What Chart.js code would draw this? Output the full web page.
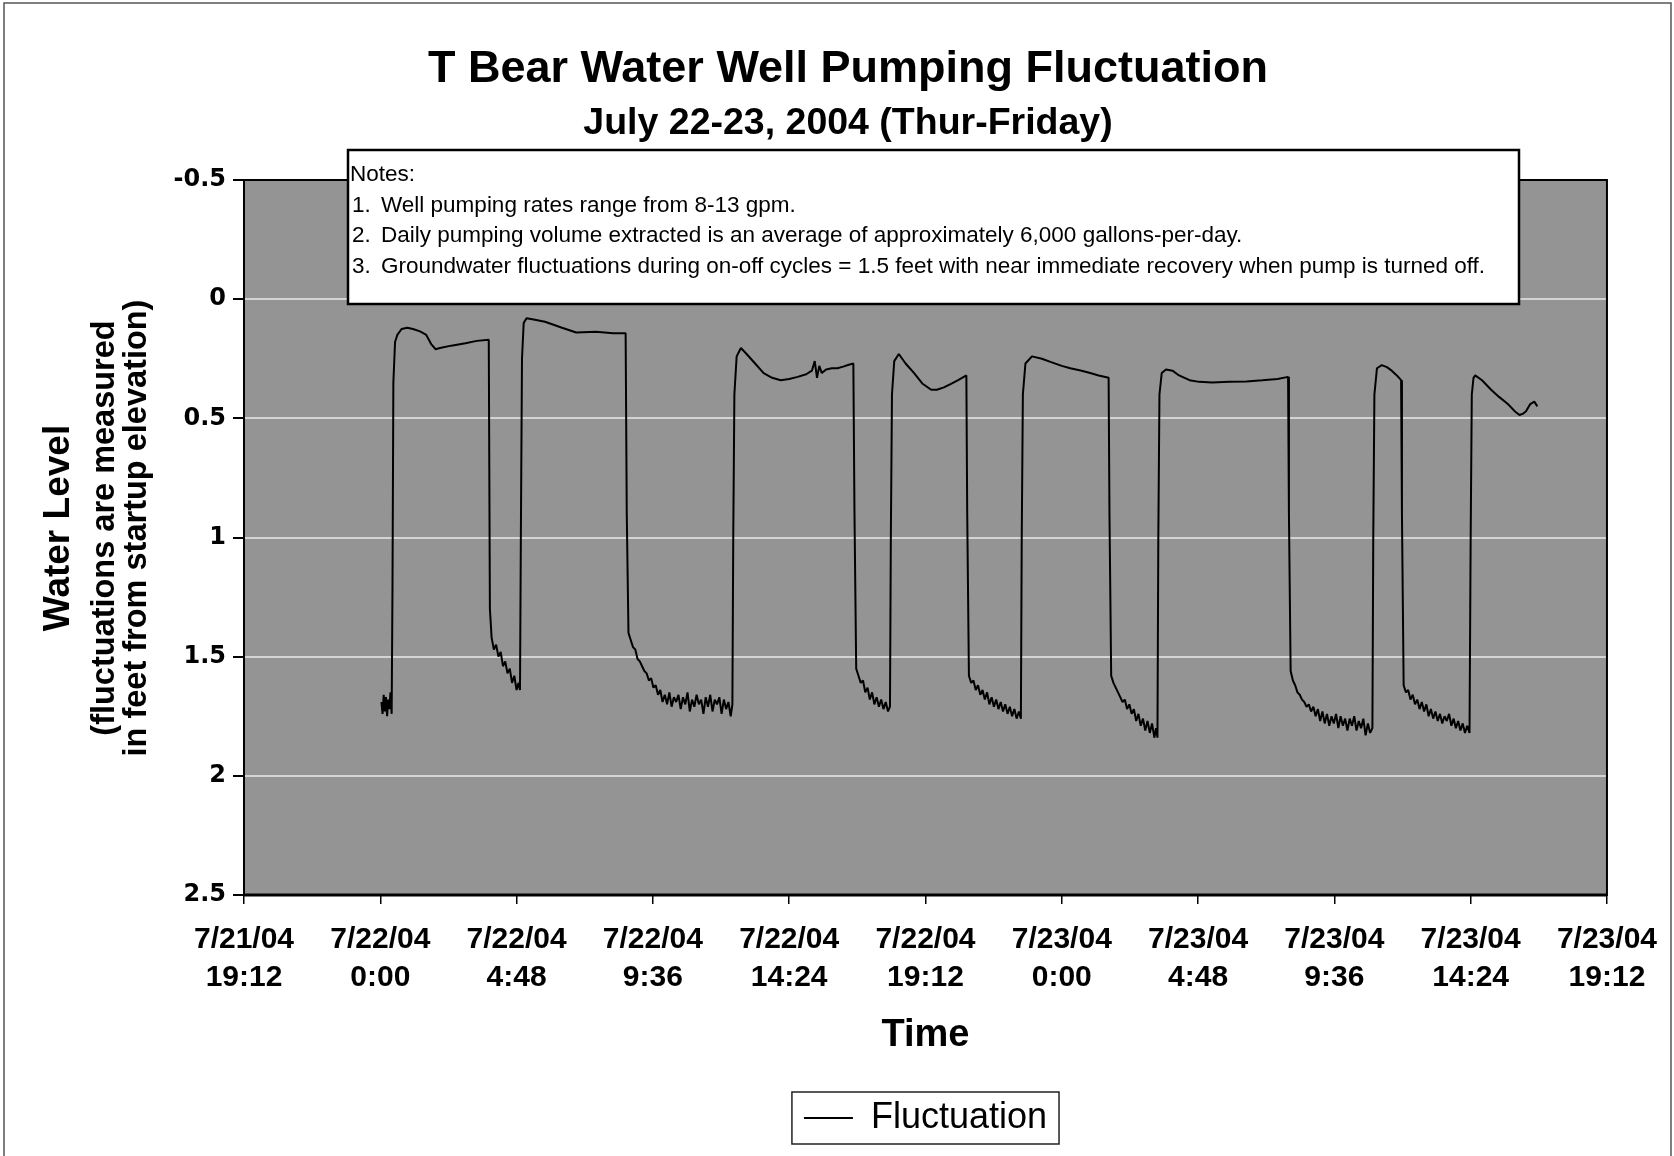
<!DOCTYPE html>
<html>
<head>
<meta charset="utf-8">
<title>T Bear Water Well Pumping Fluctuation</title>
<script src="https://cdn.jsdelivr.net/npm/chart.js@4.4.1/dist/chart.umd.min.js"></script>
<style>
  html, body { margin: 0; padding: 0; background: #fff; }
  canvas { display: block; }
</style>
</head>
<body>
<canvas id="well-chart" width="1674" height="1156"></canvas>
<script>
// hours after 7/22/04 0:00
const hours = [
  // pump on
  0.04, 0.08, 0.12, 0.16, 0.20, 0.24, 0.28, 0.32, 0.36, 0.40,
  // pump off
  0.43, 0.46, 0.52, 0.60, 0.75, 0.95, 1.15, 1.40, 1.62, 1.80, 1.95, 2.10, 2.50, 3.00, 3.40, 3.82,
  3.86, 3.92, 4.00, 4.08, 4.16, 4.24, 4.32, 4.40, 4.48, 4.56, 4.64, 4.72, 4.80, 4.87, 4.92,
  4.95, 4.99, 5.05, 5.15, 5.40, 5.80, 6.40, 6.90, 7.60, 8.20, 8.64,
  8.68, 8.74, 8.82, 8.90, 8.98, 9.06, 9.14, 9.22, 9.30, 9.38,
  9.46, 9.54, 9.62, 9.70, 9.78, 9.86, 9.94, 10.02, 10.10, 10.18,
  10.26, 10.34, 10.42, 10.50, 10.58, 10.66, 10.74, 10.82, 10.90, 10.98,
  11.06, 11.14, 11.22, 11.30, 11.38, 11.46, 11.54, 11.62, 11.70, 11.78,
  11.86, 11.94, 12.02, 12.10, 12.18, 12.26, 12.34, 12.40,
  12.43, 12.47, 12.55, 12.70, 12.90, 13.20, 13.50, 13.80, 14.10, 14.40,
  14.70, 15.00, 15.20, 15.30, 15.38, 15.46, 15.55, 15.70, 15.90, 16.10,
  16.30, 16.50, 16.66,
  16.70, 16.76, 16.84, 16.92, 17.00, 17.08, 17.16, 17.24, 17.32, 17.40,
  17.48, 17.56, 17.64, 17.72, 17.80, 17.88, 17.95,
  17.98, 18.02, 18.10, 18.26, 18.50, 18.80, 19.10, 19.40, 19.60, 19.85,
  20.10, 20.35, 20.64,
  20.67, 20.73, 20.81, 20.89, 20.97, 21.05, 21.13, 21.21, 21.29, 21.37,
  21.45, 21.53, 21.61, 21.69, 21.77, 21.85, 21.93, 22.01, 22.09, 22.17,
  22.25, 22.33, 22.41, 22.49, 22.56,
  22.59, 22.63, 22.72, 22.95, 23.30, 23.60, 24.00, 24.30, 24.70, 25.00,
  25.30, 25.65,
  25.68, 25.74, 25.82, 25.90, 25.98, 26.06, 26.14, 26.22, 26.30, 26.38,
  26.46, 26.54, 26.62, 26.70, 26.78, 26.86, 26.94, 27.02, 27.10, 27.18,
  27.26, 27.32, 27.37,
  27.40, 27.44, 27.52, 27.67, 27.90, 28.13, 28.50, 28.84, 29.30, 29.89,
  30.50, 31.06, 31.60, 31.97,
  32.00, 32.06, 32.14, 32.22, 32.30, 32.38, 32.46, 32.54, 32.62, 32.70,
  32.78, 32.86, 32.94, 33.02, 33.10, 33.18, 33.26, 33.34, 33.42, 33.50,
  33.58, 33.66, 33.74, 33.82, 33.90, 33.98, 34.06, 34.14, 34.22, 34.30,
  34.38, 34.46, 34.54, 34.62, 34.70, 34.78, 34.86, 34.94,
  34.97, 35.01, 35.10, 35.27, 35.45, 35.62, 35.80, 35.95,
  35.98, 36.04, 36.12, 36.20, 36.28, 36.36, 36.44, 36.52, 36.60, 36.68,
  36.76, 36.84, 36.92, 37.00, 37.08, 37.16, 37.24, 37.32, 37.40, 37.48,
  37.56, 37.64, 37.72, 37.80, 37.88, 37.96, 38.04, 38.12, 38.20, 38.28,
  38.36,
  38.40, 38.44, 38.50, 38.56, 38.80, 39.12, 39.40, 39.71, 39.95, 40.12,
  40.25, 40.35, 40.50, 40.64, 40.75
];

// water level, feet below startup elevation
const level = [
  1.69, 1.74, 1.66, 1.73, 1.67, 1.75, 1.68, 1.72, 1.65, 1.74,
  1.20, 0.35, 0.18, 0.15, 0.125, 0.12, 0.125, 0.135, 0.15, 0.19, 0.21, 0.205, 0.195, 0.185, 0.175, 0.17,
  1.30, 1.42, 1.47, 1.45, 1.50, 1.48, 1.54, 1.52, 1.57, 1.55, 1.61, 1.58, 1.64, 1.61, 1.64,
  1.00, 0.25, 0.10, 0.08, 0.085, 0.095, 0.12, 0.14, 0.137, 0.143, 0.143,
  0.90, 1.40, 1.43, 1.46, 1.47, 1.51, 1.52, 1.54, 1.56, 1.57,
  1.60, 1.59, 1.63, 1.62, 1.66, 1.64, 1.69, 1.66, 1.70, 1.65,
  1.71, 1.67, 1.69, 1.66, 1.72, 1.67, 1.70, 1.65, 1.73, 1.68,
  1.71, 1.66, 1.70, 1.68, 1.74, 1.67, 1.71, 1.66, 1.73, 1.68,
  1.70, 1.67, 1.74, 1.68, 1.72, 1.69, 1.75, 1.70,
  1.00, 0.40, 0.24, 0.205, 0.23, 0.27, 0.31, 0.33, 0.34, 0.335,
  0.326, 0.315, 0.30, 0.26, 0.33, 0.28, 0.31, 0.295, 0.29, 0.29,
  0.283, 0.275, 0.27,
  0.90, 1.55, 1.58, 1.61, 1.60, 1.65, 1.63, 1.68, 1.65, 1.70,
  1.67, 1.71, 1.68, 1.72, 1.69, 1.73, 1.71,
  1.00, 0.40, 0.26, 0.23, 0.27, 0.31, 0.355, 0.38, 0.38, 0.37,
  0.355, 0.34, 0.32,
  0.90, 1.58, 1.61, 1.60, 1.64, 1.62, 1.66, 1.64, 1.68, 1.65,
  1.70, 1.67, 1.71, 1.68, 1.72, 1.69, 1.73, 1.70, 1.74, 1.71,
  1.75, 1.72, 1.76, 1.73, 1.76,
  1.00, 0.40, 0.27, 0.24, 0.25, 0.263, 0.28, 0.29, 0.30, 0.31,
  0.32, 0.33,
  0.90, 1.58, 1.61, 1.63, 1.65, 1.67, 1.69, 1.68, 1.72, 1.70,
  1.74, 1.72, 1.77, 1.74, 1.79, 1.76, 1.81, 1.77, 1.82, 1.78,
  1.84, 1.80, 1.84,
  1.00, 0.40, 0.31, 0.295, 0.30, 0.32, 0.34, 0.347, 0.35, 0.347,
  0.345, 0.34, 0.335, 0.326,
  0.90, 1.56, 1.60, 1.62, 1.65, 1.66, 1.68, 1.69, 1.71, 1.70,
  1.73, 1.71, 1.75, 1.72, 1.77, 1.73, 1.78, 1.74, 1.79, 1.75,
  1.78, 1.74, 1.80, 1.75, 1.79, 1.76, 1.81, 1.76, 1.79, 1.75,
  1.81, 1.77, 1.80, 1.76, 1.83, 1.78, 1.82, 1.80,
  1.00, 0.40, 0.29, 0.277, 0.285, 0.30, 0.32, 0.34,
  0.90, 1.62, 1.65, 1.64, 1.68, 1.66, 1.70, 1.68, 1.72, 1.69,
  1.73, 1.70, 1.75, 1.72, 1.76, 1.73, 1.77, 1.74, 1.78, 1.75,
  1.77, 1.74, 1.79, 1.76, 1.80, 1.77, 1.81, 1.78, 1.82, 1.79,
  1.82,
  1.00, 0.40, 0.33, 0.32, 0.34, 0.38, 0.41, 0.44, 0.47, 0.486,
  0.48, 0.47, 0.44, 0.43, 0.45
];

const timeTicks = [
  ['7/21/04', '19:12'], ['7/22/04', '0:00'], ['7/22/04', '4:48'], ['7/22/04', '9:36'],
  ['7/22/04', '14:24'], ['7/22/04', '19:12'], ['7/23/04', '0:00'], ['7/23/04', '4:48'],
  ['7/23/04', '9:36'], ['7/23/04', '14:24'], ['7/23/04', '19:12']
];

const notes = [
  ['', 'Notes:'],
  ['1.', 'Well pumping rates range from 8-13 gpm.'],
  ['2.', 'Daily pumping volume extracted is an average of approximately 6,000 gallons-per-day.'],
  ['3.', 'Groundwater fluctuations during on-off cycles = 1.5 feet with near immediate recovery when pump is turned off.']
];

const yTitle = ['Water Level', '(fluctuations are measured', 'in feet from startup elevation)'];

const SANS = "'Liberation Sans', Arial, sans-serif";

const points = hours.map((h, i) => ({ x: h, y: level[i] }));

// grey plot background, white page
const plotBackground = {
  id: 'plotBackground',
  beforeDraw(chart) {
    const { ctx, chartArea: a } = chart;
    ctx.save();
    ctx.fillStyle = '#fff';
    ctx.fillRect(0, 0, chart.width, chart.height);
    ctx.fillStyle = '#949494';
    ctx.fillRect(a.left, a.top, a.width, a.height);
    ctx.restore();
  }
};

// frame, notes box, y title, legend box, outer border
const extras = {
  id: 'extras',
  afterDraw(chart) {
    const { ctx, chartArea: a } = chart;
    ctx.save();

    ctx.strokeStyle = '#000';
    ctx.lineWidth = 2;
    ctx.strokeRect(a.left, a.top, a.width, a.height);
    ctx.lineWidth = 3;
    ctx.beginPath();
    ctx.moveTo(a.left, a.bottom);
    ctx.lineTo(a.right, a.bottom);
    ctx.stroke();

    // notes
    const bx = a.left + 104, by = a.top - 30, bw = 1171, bh = 154;
    ctx.fillStyle = '#fff';
    ctx.fillRect(bx, by, bw, bh);
    ctx.lineWidth = 2.5;
    ctx.strokeRect(bx, by, bw, bh);
    ctx.fillStyle = '#000';
    ctx.font = '22.5px ' + SANS;
    ctx.textBaseline = 'middle';
    ctx.textAlign = 'left';
    notes.forEach((n, i) => {
      const y = by + 25 + i * 30.5;
      if (n[0]) {
        ctx.fillText(n[0], bx + 4, y);
        ctx.fillText(n[1], bx + 33, y);
      } else {
        ctx.fillText(n[1], bx + 2, y);
      }
    });

    // y axis title
    ctx.textAlign = 'center';
    const cy = 528;
    [[59, 37], [105, 32.5], [137, 32.5]].forEach((p, i) => {
      ctx.save();
      ctx.translate(p[0], cy);
      ctx.rotate(-Math.PI / 2);
      ctx.font = 'bold ' + p[1] + 'px ' + SANS;
      ctx.fillText(yTitle[i], 0, 0);
      ctx.restore();
    });

    // legend frame
    const hb = chart.legend.legendHitBoxes[0];
    if (hb) {
      ctx.lineWidth = 1.5;
      ctx.strokeStyle = '#222';
      ctx.strokeRect(hb.left - 12, hb.top - 8, hb.width + 24, hb.height + 16);
    }

    // page border
    ctx.strokeStyle = '#555';
    ctx.lineWidth = 1.5;
    ctx.strokeRect(4, 3, chart.width - 7, chart.height + 10);
    ctx.restore();
  }
};

new Chart(document.getElementById('well-chart'), {
  type: 'line',
  data: {
    datasets: [{
      label: 'Fluctuation',
      data: points,
      borderColor: '#000',
      backgroundColor: '#000',
      borderWidth: 2,
      borderJoinStyle: 'bevel',
      pointRadius: 0,
      tension: 0
    }]
  },
  options: {
    responsive: false,
    animation: false,
    devicePixelRatio: 1,
    events: [],
    layout: { padding: { left: 83, right: 61, top: 0, bottom: 10 } },
    scales: {
      x: {
        type: 'linear',
        min: -4.8,
        max: 43.2,
        afterFit: s => { s.height = 195; },
        grid: { drawOnChartArea: false, color: '#000', tickLength: 9, lineWidth: 1.5 },
        border: { display: false },
        ticks: {
          stepSize: 4.8,
          maxRotation: 0,
          autoSkip: false,
          padding: 17,
          color: '#000',
          font: { family: SANS, size: 30, weight: 'bold', lineHeight: 1.25 },
          callback: (v, i) => timeTicks[i]
        },
        title: {
          display: true,
          text: 'Time',
          color: '#000',
          font: { family: SANS, size: 38, weight: 'bold', lineHeight: 1.2 },
          padding: { top: 0, bottom: 32 }
        }
      },
      y: {
        reverse: true,
        min: -0.5,
        max: 2.5,
        afterFit: s => { s.width = 161; },
        grid: { color: '#d4d4d4', lineWidth: 2, tickColor: '#000', tickLength: 11 },
        border: { display: false },
        ticks: {
          stepSize: 0.5,
          padding: 7,
          color: '#000',
          font: { family: "'DejaVu Sans', sans-serif", size: 24, weight: 'bold' },
          callback: v => String(v)
        }
      }
    },
    plugins: {
      title: {
        display: true,
        text: 'T Bear Water Well Pumping Fluctuation',
        color: '#000',
        font: { family: SANS, size: 45, weight: 'bold', lineHeight: 1.2 },
        padding: { top: 43, bottom: 0 }
      },
      subtitle: {
        display: true,
        text: 'July 22-23, 2004 (Thur-Friday)',
        color: '#000',
        font: { family: SANS, size: 37.5, weight: 'bold', lineHeight: 1.2 },
        padding: { top: 4, bottom: 34 }
      },
      legend: {
        position: 'bottom',
        fullSize: false,
        labels: {
          usePointStyle: true,
          pointStyle: 'line',
          pointStyleWidth: 49,
          color: '#000',
          padding: 10,
          font: { family: SANS, size: 36 }
        }
      },
      tooltip: { enabled: false }
    }
  },
  plugins: [plotBackground, extras]
});
</script>
</body>
</html>
